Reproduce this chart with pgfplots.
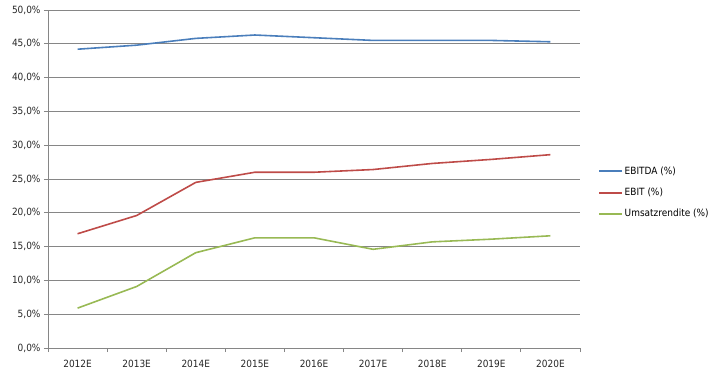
\documentclass[border=0pt]{standalone}
\usepackage{pgfplots}
\pgfplotsset{compat=1.18}
\usepackage{fontspec}
\setmainfont{DejaVu Sans Condensed}
\definecolor{cblue}{HTML}{4A7EBB}
\definecolor{cred}{HTML}{BE4B48}
\definecolor{cgreen}{HTML}{98B954}
\definecolor{cgrid}{HTML}{868686}
\begin{document}
\begin{tikzpicture}
\begin{axis}[
  scale only axis,
  width=532bp, height=338bp,
  xmin=-0.5, xmax=8.5,
  ymin=0, ymax=50,
  axis x line*=bottom, axis y line*=left,
  axis line style={cgrid, line width=0.8pt},
  xtick={0,1,2,3,4,5,6,7,8},
  xticklabels={2012E,2013E,2014E,2015E,2016E,2017E,2018E,2019E,2020E},
  major x tick style={draw=none},
  minor xtick={-0.5,0.5,...,8.5},
  minor x tick style={cgrid, line width=0.8pt},
  minor tick length=4bp,
  tick align=outside,
  ytick={0,5,...,50},
  major y tick style={cgrid, line width=0.8pt},
  major tick length=4bp,
  ymajorgrids,
  grid style={cgrid, line width=0.8pt},
  yticklabel style={font=\fontsize{10}{12}\selectfont, text=black!85},
  xticklabel style={font=\fontsize{10}{12}\selectfont, text=black!85, yshift=-5bp},
  /pgf/number format/assume math mode=true,
  yticklabel={\pgfmathprintnumber[fixed,fixed zerofill,precision=1,use comma]{\tick}\%},
  legend style={at={(1.028,0.46)}, anchor=west, draw=none, fill=none,
    font=\fontsize{10}{12}\selectfont, row sep=8bp,
    legend cell align=left},
  legend image code/.code={\draw[mark repeat=2,mark phase=2,#1] plot coordinates {(0cm,0cm) (0.4cm,0cm) (0.8cm,0cm)};},
  legend image post style={line width=2pt},
  clip=false,
]
\addplot[draw=cblue, line width=1.6pt] coordinates {(0,44.2) (1,44.8) (2,45.8) (3,46.3) (4,45.9) (5,45.5) (6,45.5) (7,45.5) (8,45.3)};
\addlegendentry{EBITDA (\%)}
\addplot[draw=cred, line width=1.6pt] coordinates {(0,16.9) (1,19.6) (2,24.5) (3,26.0) (4,26.0) (5,26.4) (6,27.3) (7,27.9) (8,28.6)};
\addlegendentry{EBIT (\%)}
\addplot[draw=cgreen, line width=1.6pt] coordinates {(0,5.9) (1,9.1) (2,14.1) (3,16.3) (4,16.3) (5,14.6) (6,15.7) (7,16.1) (8,16.6)};
\addlegendentry{Umsatzrendite (\%)}
\path (axis cs:-0.5,0) ++(-48bp,-33bp) coordinate (bl);
\path (axis cs:-0.5,0) ++(668bp,348bp) coordinate (tr);
\end{axis}
\useasboundingbox (bl) rectangle (tr);
\end{tikzpicture}
\end{document}
